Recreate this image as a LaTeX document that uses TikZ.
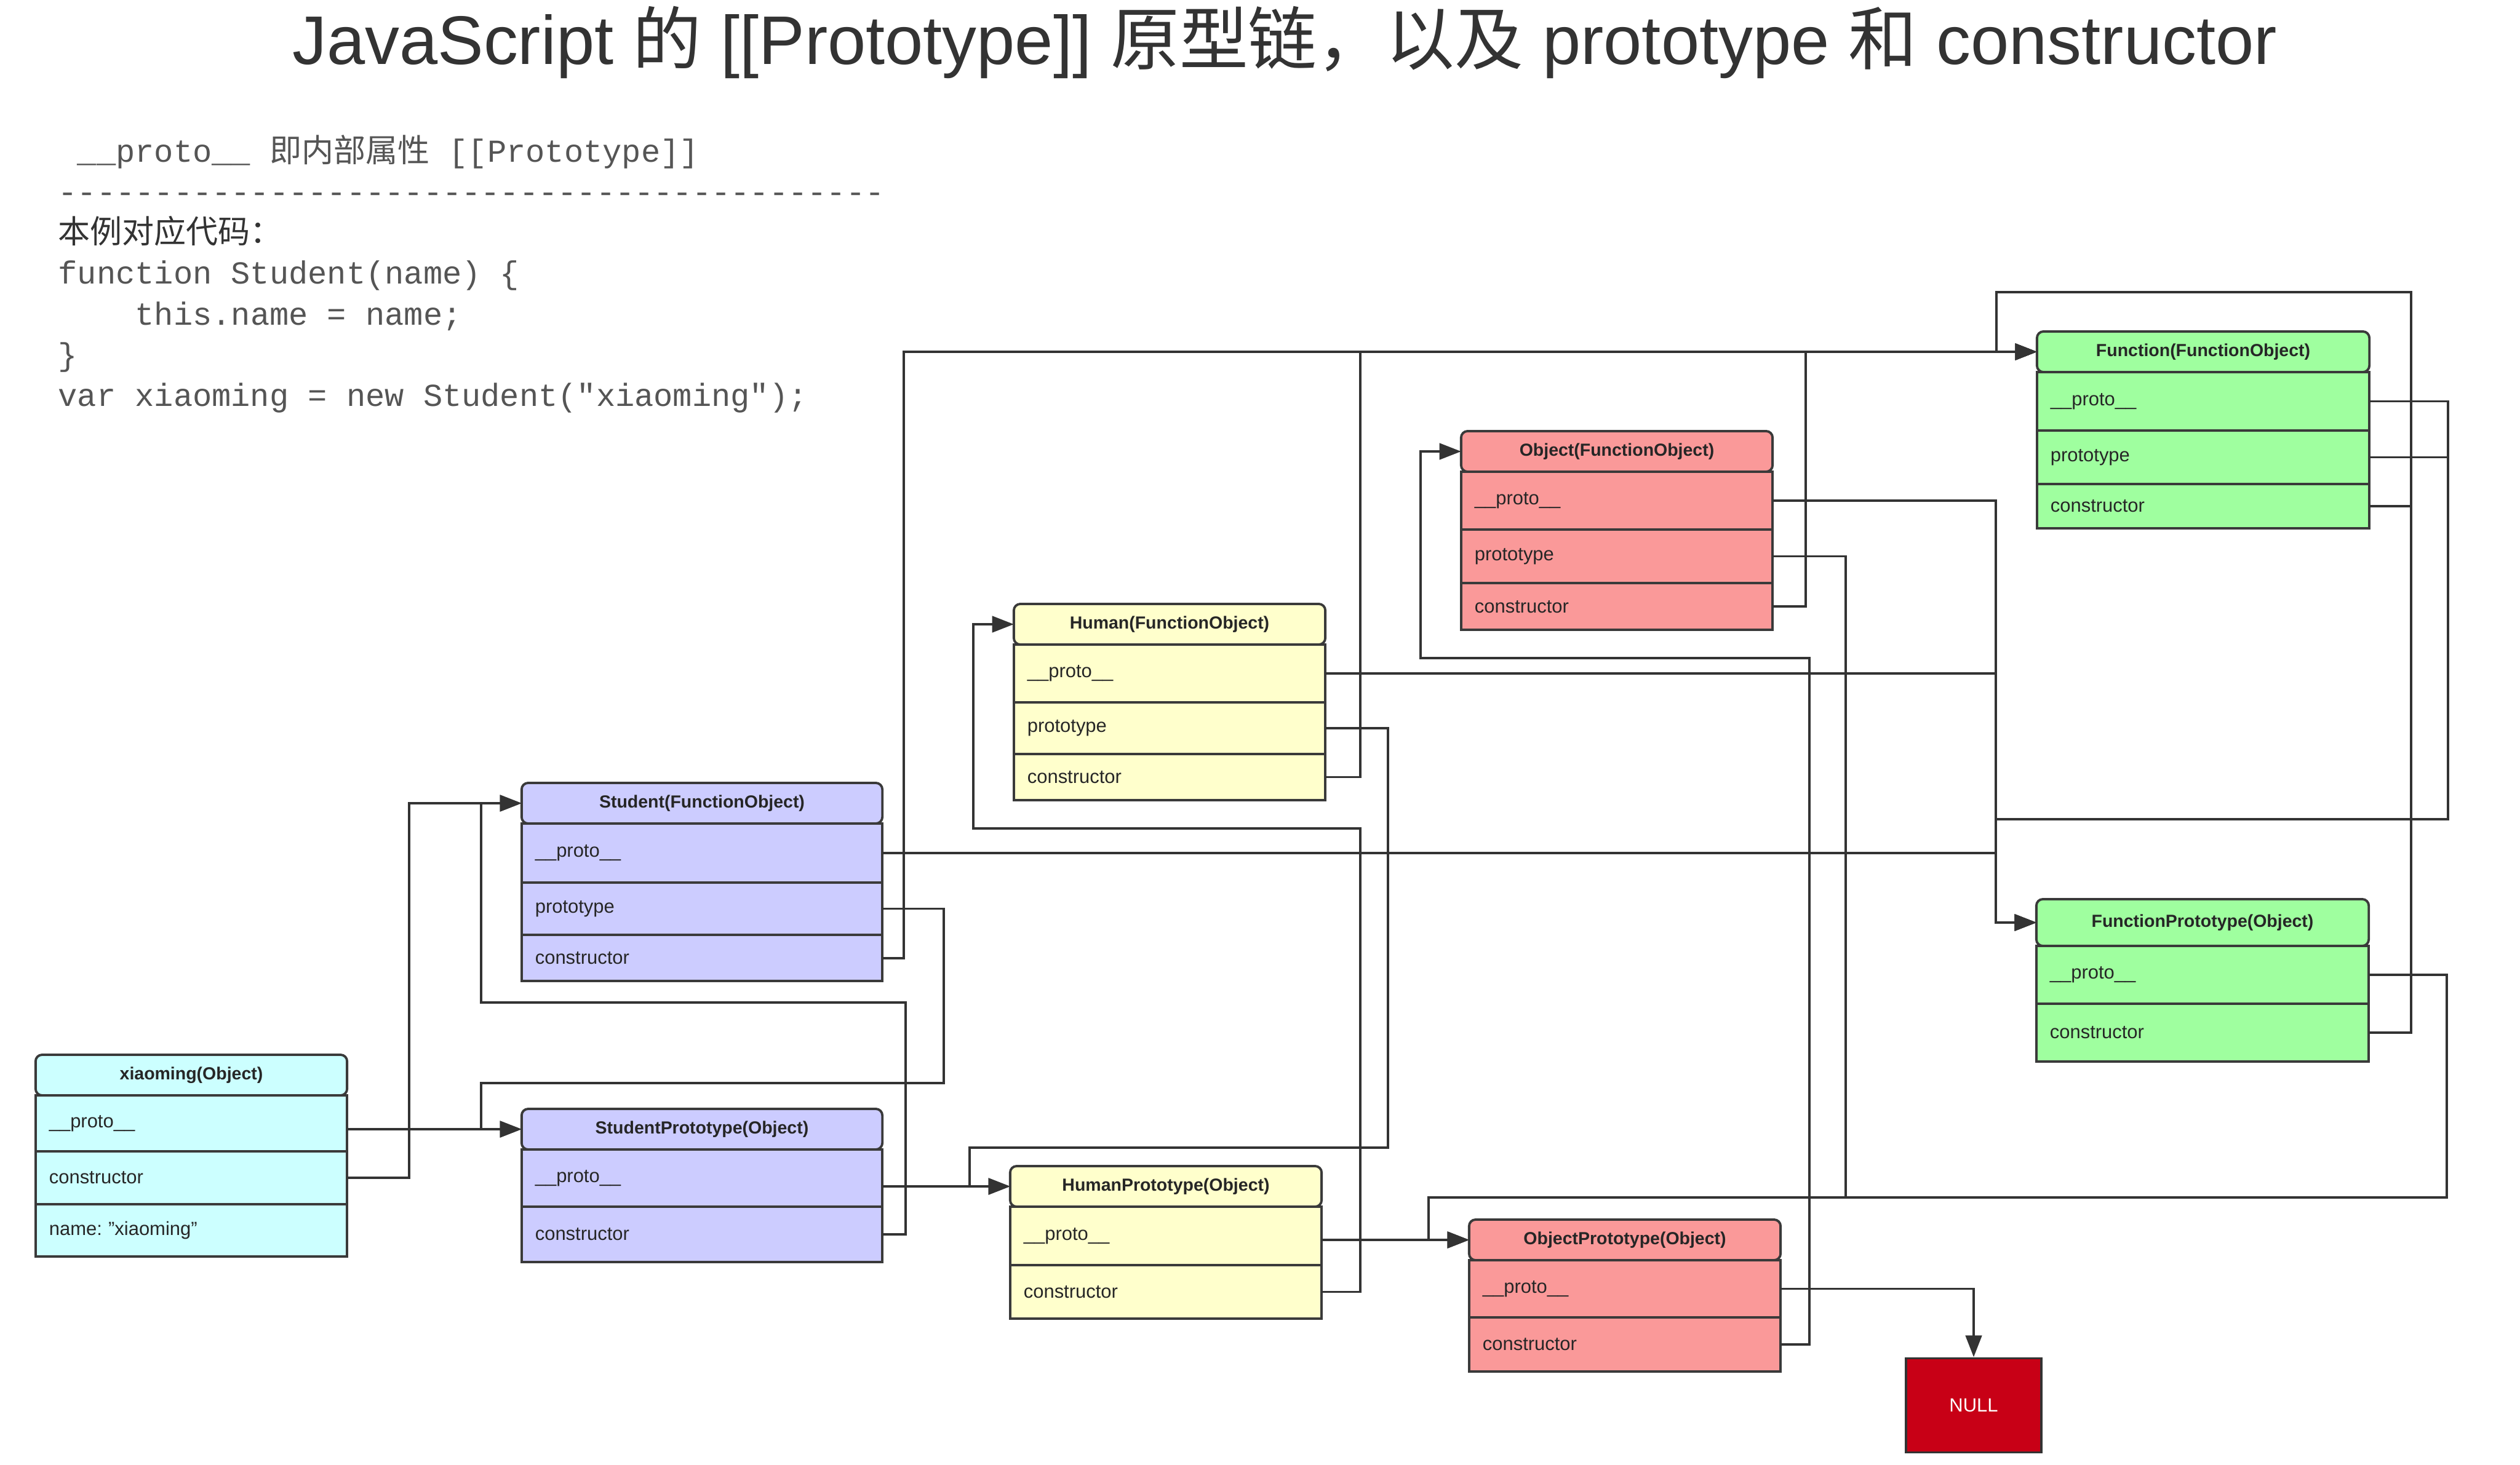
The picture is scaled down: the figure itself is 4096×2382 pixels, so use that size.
\documentclass[tikz,border=0pt]{standalone}
\usepackage{fontspec}
\setmainfont{Liberation Sans}
\setmonofont{Liberation Mono}
\newfontfamily\cjk{Noto Sans CJK SC}
\usetikzlibrary{positioning,arrows.meta}
\frenchspacing

\definecolor{linec}{HTML}{333333}
\definecolor{boxline}{HTML}{3A3A3A}
\definecolor{xmfill}{HTML}{CCFFFF}
\definecolor{stufill}{HTML}{CCCCFF}
\definecolor{hufill}{HTML}{FFFFCC}
\definecolor{objfill}{HTML}{FA9999}
\definecolor{fnfill}{HTML}{9FFF9F}
\definecolor{nullred}{HTML}{C80016}
\definecolor{codegray}{HTML}{555555}

\tikzset{
  obj/.style={draw=boxline, line width=1.1pt, outer sep=0pt, inner xsep=0.22cm, inner ysep=0pt, text=black!85},
  hdr/.style={obj, rounded corners=3pt, align=center, minimum height=0.66cm,
    font=\fontsize{8.1pt}{10pt}\selectfont\bfseries},
  fld/.style={obj, align=left, minimum height=#1, font=\fontsize{8.8pt}{10pt}\selectfont},
  link/.style={draw=linec, line width=1.05pt, -{Triangle[length=10pt,width=7.5pt]}},
  code/.style={anchor=base west, inner sep=0pt, text=codegray,
    font=\ttfamily\fontsize{14.8pt}{18pt}\selectfont},
}

\begin{document}
\begin{tikzpicture}[x=0.01cm, y=-0.01cm]
  \path[use as bounding box, fill=white] (0,0) rectangle (4096,2382);

  % title and notes
  \node[anchor=base, text=linec, font=\fontsize{31.8pt}{36pt}\selectfont] (title) at (2088,105)
    {JavaScript {\cjk 的} [[Prototype]] {\cjk 原型链，以及} prototype {\cjk 和} constructor};
  \node[code] (note) at (94,264) {\ \_\_proto\_\_ {\cjk 即内部属性} [[Prototype]]};
  \node[code] (rule) at (94,330) {-------------------------------------------};
  \node[code, text=linec, font=\cjk\fontsize{14.8pt}{18pt}\selectfont] (caption) at (94,396) {本例对应代码：};
  \node[code] (code1) at (94,462) {function Student(name) \{};
  \node[code] (code2) at (94,528) {\ \ \ \ this.name = name;};
  \node[code] (code3) at (94,594) {\}};
  \node[code] (code4) at (94,660) {var xiaoming = new Student("xiaoming");};

  % xiaoming
  \begin{scope}[nodes={fill=xmfill, text width=4.62cm}]
    \node[hdr] (xm-hdr) at (311,1748) {xiaoming(Object)};
    \node[fld=0.91cm, below=0pt of xm-hdr] (xm-proto) {\_\_proto\_\_};
    \node[fld=0.86cm, below=0pt of xm-proto] (xm-ctor) {constructor};
    \node[fld=0.85cm, below=0pt of xm-ctor] (xm-name) {name: "xiaoming"};
  \end{scope}

  % Student
  \begin{scope}[nodes={fill=stufill, text width=5.42cm}]
    \node[hdr] (stu-hdr) at (1141,1306) {Student(FunctionObject)};
    \node[fld=0.96cm, below=0pt of stu-hdr] (stu-proto) {\_\_proto\_\_};
    \node[fld=0.85cm, below=0pt of stu-proto] (stu-ptype) {prototype};
    \node[fld=0.75cm, below=0pt of stu-ptype] (stu-ctor) {constructor};
    \node[hdr] (sp-hdr) at (1141,1836) {StudentPrototype(Object)};
    \node[fld=0.93cm, below=0pt of sp-hdr] (sp-proto) {\_\_proto\_\_};
    \node[fld=0.90cm, below=0pt of sp-proto] (sp-ctor) {constructor};
  \end{scope}

  % Human
  \begin{scope}[nodes={fill=hufill, text width=4.62cm}]
    \node[hdr] (hu-hdr) at (1901,1015) {Human(FunctionObject)};
    \node[fld=0.94cm, below=0pt of hu-hdr] (hu-proto) {\_\_proto\_\_};
    \node[fld=0.84cm, below=0pt of hu-proto] (hu-ptype) {prototype};
    \node[fld=0.75cm, below=0pt of hu-ptype] (hu-ctor) {constructor};
    \node[hdr] (hp-hdr) at (1895,1929) {HumanPrototype(Object)};
    \node[fld=0.95cm, below=0pt of hp-hdr] (hp-proto) {\_\_proto\_\_};
    \node[fld=0.87cm, below=0pt of hp-proto] (hp-ctor) {constructor};
  \end{scope}

  % Object
  \begin{scope}[nodes={fill=objfill, text width=4.62cm}]
    \node[hdr] (ob-hdr) at (2628,734) {Object(FunctionObject)};
    \node[fld=0.94cm, below=0pt of ob-hdr] (ob-proto) {\_\_proto\_\_};
    \node[fld=0.87cm, below=0pt of ob-proto] (ob-ptype) {prototype};
    \node[fld=0.76cm, below=0pt of ob-ptype] (ob-ctor) {constructor};
    \node[hdr] (op-hdr) at (2641,2016) {ObjectPrototype(Object)};
    \node[fld=0.93cm, below=0pt of op-hdr] (op-proto) {\_\_proto\_\_};
    \node[fld=0.88cm, below=0pt of op-proto] (op-ctor) {constructor};
  \end{scope}

  % Function
  \begin{scope}[nodes={fill=fnfill, text width=4.96cm}]
    \node[hdr] (fn-hdr) at (3581,572) {Function(FunctionObject)};
    \node[fld=0.95cm, below=0pt of fn-hdr] (fn-proto) {\_\_proto\_\_};
    \node[fld=0.87cm, below=0pt of fn-proto] (fn-ptype) {prototype};
    \node[fld=0.72cm, below=0pt of fn-ptype] (fn-ctor) {constructor};
    \node[hdr, minimum height=0.76cm] (fp-hdr) at (3580,1500) {FunctionPrototype(Object)};
    \node[fld=0.94cm, below=0pt of fp-hdr] (fp-proto) {\_\_proto\_\_};
    \node[fld=0.94cm, below=0pt of fp-proto] (fp-ctor) {constructor};
  \end{scope}

  \node[draw=linec, line width=1.1pt, fill=nullred, text=white, minimum width=2.2cm,
    minimum height=1.53cm, font=\fontsize{8.8pt}{10pt}\selectfont] (null) at (3208,2285) {NULL};

  % entry points left of each header
  \foreach \b in {stu,sp,hu,hp,ob,op,fn,fp}
    \coordinate (\b-in) at ([xshift=-0.66cm]\b-hdr.west);

  % xiaoming
  \draw[link] (sp-hdr.west -| xm-proto.east) -- (sp-hdr.west);
  \draw[link] (xm-ctor.east) -- ++(101,0) |- (stu-hdr.west);
  % Student
  \draw[link] (stu-proto.east) -| (fp-in) -- (fp-hdr.west);
  \draw[link] (stu-ptype.east) -| (1534,1761) -| (sp-in) -- (sp-hdr.west);
  \draw[link] (stu-ctor.east) -- ++(35,0) |- (fn-hdr.west);
  \draw[link] (hp-hdr.west -| sp-proto.east) -- (hp-hdr.west);
  \draw[link] (sp-ctor.east) -| (1472,1630) -| (stu-in) -- (stu-hdr.west);
  % Human
  \draw[link] (hu-proto.east) -| (fp-in) -- (fp-hdr.west);
  \draw[link] (hu-ptype.east) -| (2256,1866) -| (hp-in) -- (hp-hdr.west);
  \draw[link] (hu-ctor.east) -- ++(57,0) |- (fn-hdr.west);
  \draw[link] (op-hdr.west -| hp-proto.east) -- (op-hdr.west);
  \draw[link] (hp-ctor.east) -| (2211,1347) -| (hu-in) -- (hu-hdr.west);
  % Object
  \draw[link] (ob-proto.east) -| (fp-in) -- (fp-hdr.west);
  \draw[link] (ob-ptype.east) -| (3000,1947) -| (op-in) -- (op-hdr.west);
  \draw[link] (ob-ctor.east) -- ++(54,0) |- (fn-hdr.west);
  \draw[link] (op-proto.east) -| (null.north);
  \draw[link] (op-ctor.east) -| (2941,1070) -| (ob-in) -- (ob-hdr.west);
  % Function
  \draw[link] (fn-proto.east) -| (3979,1332) -| (fp-in) -- (fp-hdr.west);
  \draw[link] (fn-ptype.east) -| (3979,1332) -| (fp-in) -- (fp-hdr.west);
  \draw[link] (fn-ctor.east) -| (3919,475) -| (fn-in) -- (fn-hdr.west);
  \draw[link] (fp-proto.east) -| (3977,1947) -| (op-in) -- (op-hdr.west);
  \draw[link] (fp-ctor.east) -| (3919,475) -| (fn-in) -- (fn-hdr.west);
\end{tikzpicture}
\end{document}
